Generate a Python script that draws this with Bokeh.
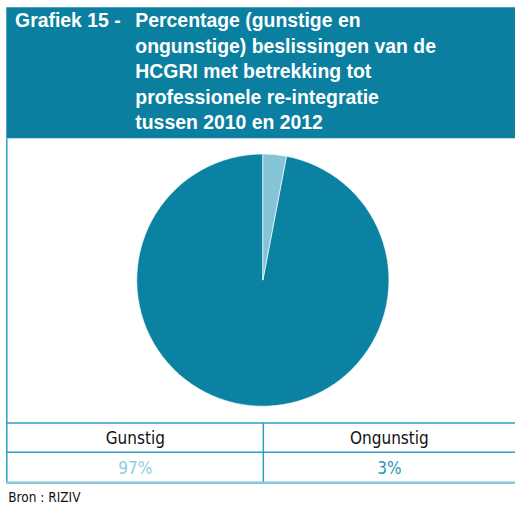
import numpy as np
from bokeh.plotting import figure
from bokeh.models import Range1d, ColumnDataSource
from bokeh.core.properties import value
from bokeh.embed import file_html
from bokeh.resources import INLINE

# ---- data ----
title_prefix = "Grafiek 15 -"
title_lines = [
    "Percentage (gunstige en",
    "ongunstige) beslissingen van de",
    "HCGRI met betrekking tot",
    "professionele re-integratie",
    "tussen 2010 en 2012",
]
categories = ["Gunstig", "Ongunstig"]
values = [97, 3]
value_labels = ["97%", "3%"]
source_note = "Bron : RIZIV"

# ---- styles ----
HEADER = "#0b7fa0"
DARK = "#0b82a2"
LIGHT = "#85c3d7"
LINE = "#2a9fc4"
LINE_LIGHT = "#88c8da"
LABEL_COLORS = ["#90cde0", "#1f97bf"]
TITLE_FONT = "Liberation Sans"
NARROW = "DejaVu Sans Condensed"

# the figure shows the full 531x520 reference frame
W, H = 515, 504
p = figure(width=W, height=H, output_backend="svg", toolbar_location=None,
           x_range=Range1d(0, 531), y_range=Range1d(-520, 0),
           x_axis_type=None, y_axis_type=None, min_border=0,
           outline_line_color=None, background_fill_color="white",
           border_fill_color="white")
p.grid.visible = False

# header band
p.quad(left=[6], right=[531], top=[-7], bottom=[-142], fill_color=HEADER, line_color=None)

mid1 = 20.5
step = 26.3
p.text(x=[15], y=[-mid1], text=[title_prefix], text_color="white",
       text_font=value(TITLE_FONT), text_font_style="bold", text_font_size="19.4px",
       text_baseline="middle", text_align="left")
p.text(x=[139] * len(title_lines), y=[-(mid1 + step * i) for i in range(len(title_lines))],
       text=title_lines, text_color="white",
       text_font=value(TITLE_FONT), text_font_style="bold", text_font_size="19.4px",
       text_baseline="middle", text_align="left")

# pie
vals = np.array(values, dtype=float)
frac = vals / vals.sum()
cum = np.concatenate([[0.0], np.cumsum(frac)])
start = np.pi / 2 + 2 * np.pi * cum[:-1]
end = np.pi / 2 + 2 * np.pi * cum[1:]
pie_src = ColumnDataSource(dict(cat=categories, start=start, end=end, color=[DARK, LIGHT]))
p.wedge(x=270.5, y=-288.5, radius=130, start_angle="start", end_angle="end",
        direction="anticlock", fill_color="color", line_color="white", line_width=0.6,
        source=pie_src)

# table frame
p.segment(x0=[6.5], y0=[-142], x1=[6.5], y1=[-497], line_color=LINE, line_width=1.5)
p.segment(x0=[6, 6], y0=[-436, -466], x1=[531, 531], y1=[-436, -466], line_color=LINE, line_width=1.5)
p.segment(x0=[271], y0=[-436], x1=[271], y1=[-497], line_color=LINE, line_width=1.5)
p.segment(x0=[6], y0=[-497.5], x1=[531], y1=[-497.5], line_color=LINE_LIGHT, line_width=2.5)

col_x = [139, 401]
p.text(x=col_x, y=[-451, -451], text=categories, text_color="#111111",
       text_font=value(NARROW), text_font_size="17px",
       text_align="center", text_baseline="middle")
p.text(x=col_x, y=[-482, -482], text=value_labels, text_color=LABEL_COLORS,
       text_font=value(NARROW), text_font_size="17px",
       text_align="center", text_baseline="middle")

p.text(x=[8], y=[-512], text=[source_note], text_color="#111111",
       text_font=value(NARROW), text_font_size="13.5px",
       text_align="left", text_baseline="middle")

open("out.html", "w").write(file_html(p, INLINE))
